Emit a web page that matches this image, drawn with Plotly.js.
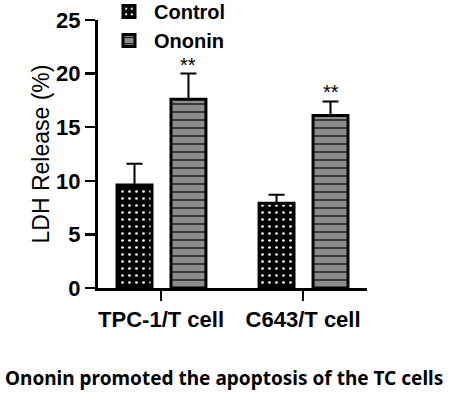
<!DOCTYPE html>
<html><head><meta charset="utf-8">
<script src="https://cdn.plot.ly/plotly-3.0.1.min.js"></script>
<style>body{margin:0;background:#fff}#c{width:450px;height:393px}</style>
</head><body><div id="c"></div>
<script>
const categories = ["TPC-1/T cell", "C643/T cell"];
const controlMean = [9.6, 7.9];
const controlErr = [2.0, 0.8];
const ononinMean = [17.6, 16.1];
const ononinErr = [2.4, 1.3];
const sigLabels = ["**", "**"];
const caption = "Ononin promoted the apoptosis of the TC cells";

const BW = 0.246;
const offC = -0.31, offO = 0.07;
const font = {family: "Liberation Sans, Arial, sans-serif", color: "#000"};

const traces = [
  {type: "bar", name: "Control", x: categories, y: controlMean, width: BW, offset: offC,
   marker: {color: "#000", line: {color: "#000", width: 3},
            pattern: {shape: ".", bgcolor: "#000", fgcolor: "#fff", size: 7, solidity: 0.12, fillmode: "replace"}},
   error_y: {type: "data", symmetric: false, array: controlErr, arrayminus: [0, 0], color: "#000", thickness: 2, width: 8}},
  {type: "bar", name: "Ononin", x: categories, y: ononinMean, width: BW, offset: offO,
   marker: {color: "#8c8c8c", line: {color: "#000", width: 3},
            pattern: {shape: "-", bgcolor: "#8c8c8c", fgcolor: "#000", size: 8, solidity: 0.15, fillmode: "replace"}},
   error_y: {type: "data", symmetric: false, array: ononinErr, arrayminus: [0, 0], color: "#000", thickness: 2, width: 8}}
];

const annotations = categories.map((c, i) => ({
  x: i + offO + BW / 2, y: ononinMean[i] + ononinErr[i], xref: "x", yref: "y",
  text: sigLabels[i], showarrow: false, yanchor: "bottom", yshift: -4,
  font: Object.assign({}, font, {size: 20})
}));
annotations.push({
  x: (224 - 98) / 269, y: (288 - 378) / 268, xref: "paper", yref: "paper", xanchor: "center", yanchor: "middle",
  text: "<b>" + caption + "</b>", showarrow: false,
  font: {family: "Noto Sans, Open Sans, sans-serif", size: 19, color: "#000"}
});

const layout = {
  width: 450, height: 393,
  margin: {l: 98, r: 83, t: 20, b: 105, autoexpand: false},
  paper_bgcolor: "#fff", plot_bgcolor: "#fff",
  showlegend: true,
  legend: {x: (104 - 98) / 269, y: (288 + 8) / 268, xanchor: "left", yanchor: "top",
           bgcolor: "rgba(0,0,0,0)",
           font: Object.assign({}, font, {size: 20, weight: "bold"}), itemwidth: 40, tracegroupgap: 0},
  xaxis: {type: "category", range: [-0.444, 1.45], showline: true, linecolor: "#000", linewidth: 3,
          ticks: "outside", ticklen: 10, tickwidth: 2.5, tickcolor: "#000", tickangle: 0, automargin: false,
          tickfont: Object.assign({}, font, {size: 22, weight: "bold"}), showgrid: false, zeroline: false},
  yaxis: {range: [0, 25], dtick: 5, showline: true, linecolor: "#000", linewidth: 3, automargin: false,
          ticks: "outside", ticklen: 10, tickwidth: 2.5, tickcolor: "#000",
          tickfont: Object.assign({}, font, {size: 22, weight: "bold"}), showgrid: false, zeroline: false,
          title: {text: "LDH Release (%)", font: Object.assign({}, font, {size: 23}), standoff: 1}},
  annotations: annotations,
  bargap: 0
};
Plotly.newPlot("c", traces, layout, {displayModeBar: false, staticPlot: true});
</script></body></html>
